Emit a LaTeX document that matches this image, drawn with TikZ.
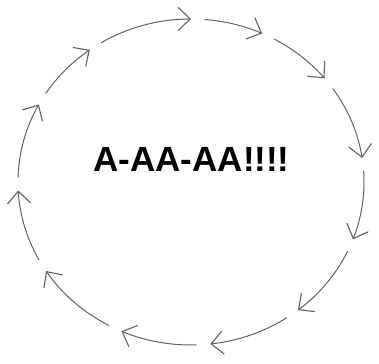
\documentclass[tikz,border=0pt]{standalone}
\usepackage{fontspec}
\setmainfont{Liberation Sans}
\usetikzlibrary{arrows.meta}
\begin{document}
\begin{tikzpicture}[x=1pt,y=1pt,
  seg/.style={draw=black!62, line width=1pt,
    -{Straight Barb[length=12pt,width=23pt,line width=1.1pt]}},
  headline/.style={font=\bfseries\fontsize{35}{35}\selectfont, text=black, inner sep=0pt}]
\useasboundingbox (0,0) rectangle (379,363);
\def\rx{173}\def\ry{163}
\coordinate (c) at (191,181);
\foreach \s/\e [count=\i] in {121.3/90, 85.5/65.7, 61.2/39.5, 35/8.5, 4/-20.6, -25.1/-51.8, -56.3/-83.6, -88.1/-113.7, -118.2/-146.9, -151.4/-177, -181.5/-208.4, -212.9/-234.2}{
  \coordinate (s\i) at ([shift={(\s:\rx pt and \ry pt)}]c);
  \draw[seg] (s\i) arc[start angle=\s, end angle=\e, x radius=\rx, y radius=\ry];
}
\node[headline] (title) at (191.5,204) {A-AA-AA!!!!};
\end{tikzpicture}
\end{document}
